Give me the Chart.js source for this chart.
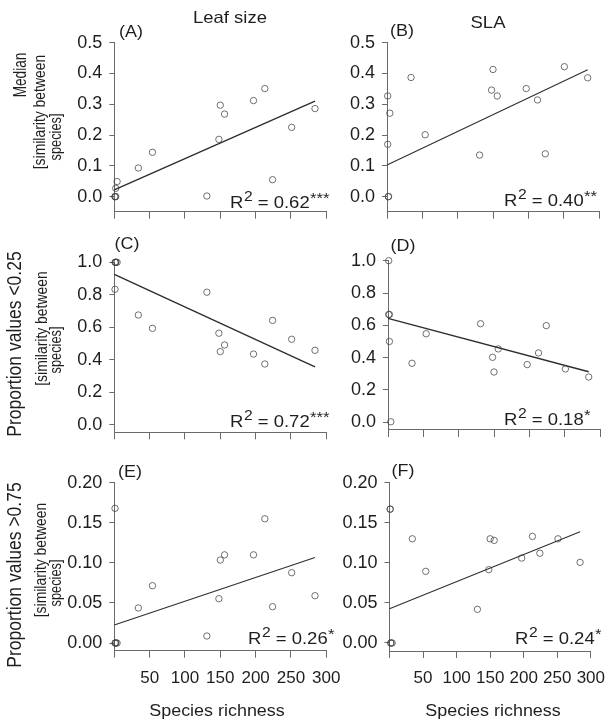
<!DOCTYPE html>
<html>
<head>
<meta charset="utf-8">
<script src="https://cdn.jsdelivr.net/npm/chart.js@4.4.1/dist/chart.umd.min.js"></script>
<style>
html, body { margin: 0; padding: 0; background: #fff; }
#wrap { position: relative; width: 615px; height: 725px; }
#wrap canvas { position: absolute; left: 0; top: 0; }
</style>
</head>
<body>
<div id="wrap">
    <canvas id="pA" width="615" height="725"></canvas>
    <canvas id="pB" width="615" height="725"></canvas>
    <canvas id="pC" width="615" height="725"></canvas>
    <canvas id="pD" width="615" height="725"></canvas>
    <canvas id="pE" width="615" height="725"></canvas>
    <canvas id="pF" width="615" height="725"></canvas>
</div>
<script>
// species richness per site (same sites in every panel)
var richness = [1, 1, 2, 2, 4, 34, 54, 131, 148, 150, 156, 197, 213, 224, 251, 284];

// similarity between species, per site
var medianLeaf = [0, 0, 0, 0.027, 0.049, 0.093, 0.144, 0.002, 0.186, 0.297, 0.268, 0.312, 0.351, 0.055, 0.225, 0.286];
var medianSLA = [0.327, 0.170, 0, 0, 0.271, 0.387, 0.201, 0.135, 0.346, 0.413, 0.327, 0.351, 0.314, 0.139, 0.422, 0.386];
var below025Leaf = [1, 0.834, 1, 1, 1, 0.676, 0.594, 0.816, 0.564, 0.451, 0.492, 0.436, 0.375, 0.643, 0.527, 0.459];
var below025SLA = [1, 0.667, 0.667, 0.5, 0.003, 0.365, 0.548, 0.610, 0.402, 0.311, 0.454, 0.357, 0.429, 0.598, 0.330, 0.280];
var above075Leaf = [0.168, 0, 0, 0, 0, 0.0437, 0.0715, 0.0087, 0.0553, 0.1035, 0.110, 0.110, 0.155, 0.0453, 0.0877, 0.059];
var above075SLA = [0.167, 0.167, 0, 0, 0, 0.130, 0.0894, 0.042, 0.0915, 0.130, 0.128, 0.106, 0.133, 0.112, 0.130, 0.1006];

// regression fits, panels A-F
var fitIntercept = [0.022, 0.103, 0.926, 0.643, 0.0225, 0.0428];
var fitSlope = [0.001014, 0.001088, -0.002004, -0.001164, 0.000296, 0.000338];
var r2Values = ['0.62', '0.40', '0.72', '0.18', '0.26', '0.24'];
var r2Stars = ['***', '**', '***', '*', '*', '*'];

// axis ticks
var xTicks = [0, 50, 100, 150, 200, 250, 300];
var yTicksMedian = [0, 0.1, 0.2, 0.3, 0.4, 0.5];
var yTicksBelow = [0, 0.2, 0.4, 0.6, 0.8, 1.0];
var yTicksAbove = [0, 0.05, 0.1, 0.15, 0.2];

var FAM = '"Liberation Sans", Arial, Helvetica, sans-serif';
var axisColor = '#6a6a6a';
var textColor = '#1e1e1e';
var STRETCH = 1.12; // the figure is a bit wider than tall, text too

// draws the free text of each panel (labels, R2, axis titles)
var panelText = {
    id: 'panelText',
    afterDraw: function (chart, args, opts) {
        var ctx = chart.ctx;
        ctx.save();
        ctx.fillStyle = textColor;
        (opts.items || []).forEach(function (it) {
            ctx.save();
            ctx.font = it.size + 'px ' + FAM;
            ctx.textAlign = it.align || 'center';
            ctx.textBaseline = 'middle';
            ctx.translate(it.x, it.y);
            if (it.rotate) {
                ctx.rotate(-Math.PI / 2);
                ctx.scale(it.squeeze || 1, it.tall || STRETCH);
            } else {
                ctx.scale(STRETCH, 1);
            }
            ctx.fillText(it.text, 0, 0);
            ctx.restore();
        });
        if (opts.r2) {
            var r = opts.r2, size = r.size, x = 0;
            var base = 0.36 * size;
            ctx.translate(r.x, r.y);
            ctx.scale(STRETCH, 1);
            ctx.textAlign = 'left';
            ctx.textBaseline = 'alphabetic';
            ctx.font = size + 'px ' + FAM;
            ctx.fillText('R', x, base);
            x += ctx.measureText('R').width;
            ctx.font = Math.round(size * 0.82) + 'px ' + FAM;
            ctx.fillText('2', x + 0.5, base - size * 0.42);
            x += ctx.measureText('2').width + 0.5;
            ctx.font = size + 'px ' + FAM;
            var t = ' = ' + r.value;
            ctx.fillText(t, x, base);
            x += ctx.measureText(t).width;
            ctx.font = Math.round(size * 0.9) + 'px ' + FAM;
            ctx.fillText(r.stars, x + 0.3, base - size * 0.3);
        }
        ctx.restore();
    }
};

var panels = [
    { id: 'pA', ys: medianLeaf, left: 114.3, top: 42.7, bottom: 211.7, ymin: -0.049, ymax: 0.5, yTicks: yTicksMedian, dec: 1, xLabels: false, lw: 1.4,
      tag: ['(A)', 131, 33], r2: [230, 201.7],
      items: [
          { text: 'Leaf size', x: 230, y: 18.5, size: 16.5 },
          { text: 'Median', x: 21.5, y: 75, size: 16, rotate: true, squeeze: 0.85, tall: 1.1 },
          { text: '[similarity between', x: 40.5, y: 112, size: 16, rotate: true, squeeze: 0.87, tall: 1.02 },
          { text: 'species]', x: 56.5, y: 137, size: 16, rotate: true, squeeze: 0.8, tall: 1.02 }
      ] },
    { id: 'pB', ys: medianSLA, left: 387, top: 42.7, bottom: 211.7, ymin: -0.049, ymax: 0.5, yTicks: yTicksMedian, dec: 1, xLabels: false, lw: 1.1,
      tag: ['(B)', 402, 32], r2: [504, 200],
      items: [
          { text: 'SLA', x: 488, y: 23, size: 16.5 }
      ] },
    { id: 'pC', ys: below025Leaf, left: 114.3, top: 262.3, bottom: 432.3, ymin: -0.045, ymax: 1.0, yTicks: yTicksBelow, dec: 1, xLabels: false, lw: 1.4,
      tag: ['(C)', 127, 245], r2: [230, 420.7],
      items: [
          { text: 'Proportion values <0.25', x: 16, y: 344, size: 17.5, rotate: true },
          { text: '[similarity between', x: 42.5, y: 328.5, size: 16, rotate: true, squeeze: 0.87, tall: 1.02 },
          { text: 'species]', x: 57, y: 350, size: 16, rotate: true, squeeze: 0.8, tall: 1.02 }
      ] },
    { id: 'pD', ys: below025SLA, left: 388, top: 260.7, bottom: 430, ymin: -0.048, ymax: 1.0, yTicks: yTicksBelow, dec: 1, xLabels: false, lw: 1.4,
      tag: ['(D)', 403, 246.7], r2: [504, 419],
      items: [] },
    { id: 'pE', ys: above075Leaf, left: 114.3, top: 482.7, bottom: 650.7, ymin: -0.0096, ymax: 0.2, yTicks: yTicksAbove, dec: 2, xLabels: true, lw: 1.1,
      tag: ['(E)', 130, 473], r2: [248, 638],
      items: [
          { text: 'Proportion values >0.75', x: 16, y: 575, size: 17.5, rotate: true },
          { text: '[similarity between', x: 42, y: 560, size: 16, rotate: true, squeeze: 0.87, tall: 1.02 },
          { text: 'species]', x: 56.5, y: 583, size: 16, rotate: true, squeeze: 0.8, tall: 1.02 },
          { text: 'Species richness', x: 217, y: 711.5, size: 16 }
      ] },
    { id: 'pF', ys: above075SLA, left: 389.5, top: 482.7, bottom: 651, ymin: -0.01, ymax: 0.2, yTicks: yTicksAbove, dec: 2, xLabels: true, lw: 1.1,
      tag: ['(F)', 403, 472], r2: [515, 638],
      items: [
          { text: 'Species richness', x: 493, y: 711.5, size: 16 }
      ] }
];

function makePanel(p, i) {
    var points = richness.map(function (x, k) { return { x: x, y: p.ys[k] }; });
    var xMax = Math.max.apply(null, richness);
    var fit = [
        { x: 0, y: fitIntercept[i] },
        { x: xMax, y: fitIntercept[i] + fitSlope[i] * xMax }
    ];
    var right = p.left + 212;
    var items = p.items.concat([{ text: p.tag[0], x: p.tag[1], y: p.tag[2], size: 16 }]);

    return new Chart(document.getElementById(p.id), {
        type: 'scatter',
        data: {
            datasets: [{
                data: points,
                pointStyle: 'circle',
                pointRadius: 3.2,
                borderWidth: 1,
                borderColor: 'rgba(60,60,60,0.72)',
                backgroundColor: 'rgba(255,255,255,0)',
                showLine: false,
                clip: false
            }, {
                type: 'line',
                data: fit,
                borderColor: '#2e2e2e',
                borderWidth: p.lw,
                pointRadius: 0,
                fill: false,
                clip: false
            }]
        },
        options: {
            responsive: false,
            devicePixelRatio: 1,
            animation: false,
            events: [],
            layout: { padding: { left: 0, top: p.top, right: 615 - right, bottom: 0 } },
            plugins: {
                legend: { display: false },
                tooltip: { enabled: false },
                panelText: { items: items, r2: { x: p.r2[0], y: p.r2[1], size: 16.5, value: r2Values[i], stars: r2Stars[i] } }
            },
            scales: {
                x: {
                    type: 'linear',
                    min: 0,
                    max: 300,
                    afterBuildTicks: function (s) { s.ticks = xTicks.map(function (v) { return { value: v }; }); },
                    afterFit: function (s) { s.height = 725 - p.bottom; },
                    grid: { display: true, drawOnChartArea: false, drawTicks: true, tickLength: 7, color: axisColor, lineWidth: 1 },
                    border: { display: true, color: axisColor, width: 1 },
                    ticks: {
                        display: p.xLabels,
                        color: textColor,
                        padding: 10,
                        maxRotation: 0,
                        autoSkip: false,
                        font: { family: FAM, size: 17 },
                        callback: function (v) { return v === 0 ? '' : v; }
                    }
                },
                y: {
                    type: 'linear',
                    min: p.ymin,
                    max: p.ymax,
                    afterBuildTicks: function (s) { s.ticks = p.yTicks.map(function (v) { return { value: v }; }); },
                    afterFit: function (s) { s.width = p.left; },
                    grid: { display: true, drawOnChartArea: false, drawTicks: true, tickLength: 5, color: axisColor, lineWidth: 1 },
                    border: { display: true, color: axisColor, width: 1 },
                    ticks: {
                        color: textColor,
                        padding: 7,
                        autoSkip: false,
                        font: { family: FAM, size: 18 },
                        callback: function (v) { return Number(v).toFixed(p.dec); }
                    }
                }
            }
        },
        plugins: [panelText]
    });
}

panels.forEach(makePanel);
</script>
</body>
</html>
